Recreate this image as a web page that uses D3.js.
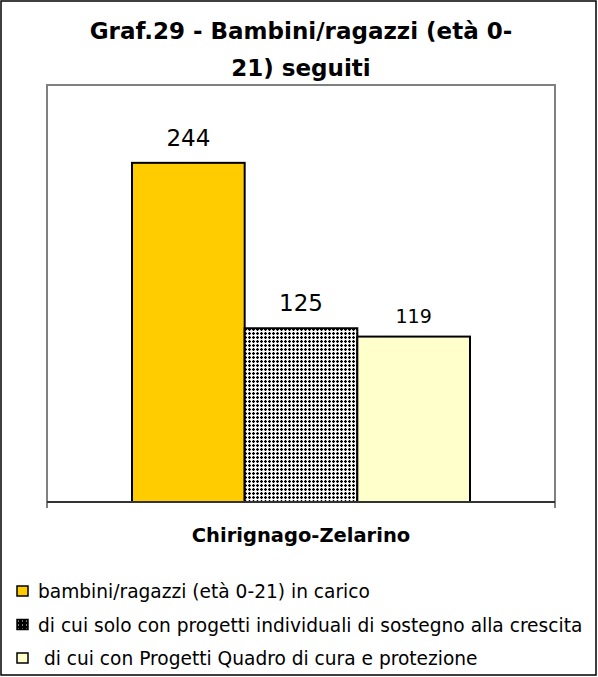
<!DOCTYPE html>
<html><head><meta charset="utf-8">
<script src="https://cdn.jsdelivr.net/npm/d3@7"></script>
<style>body{margin:0;background:#fff}svg{display:block}</style>
</head><body>
<svg id="c" width="598" height="677"></svg>
<script>
const titleLines = ["Graf.29 - Bambini/ragazzi (età 0-", "21) seguiti"];
const categories = ["Chirignago-Zelarino"];
const seriesNames = ["bambini/ragazzi (età 0-21) in carico",
  "di cui solo con progetti individuali di sostegno alla crescita",
  " di cui con Progetti Quadro di cura e protezione"];
const seriesValues = [244, 125, 119];
const seriesFills = ["#FFCC00", "url(#dots)", "#FFFFCC"];
const labelSizes = [23, 23, 19];
const yDomain = [0, 300];

const svg = d3.select("#c");
const defs = svg.append("defs");
const pat = defs.append("pattern").attr("id","dots").attr("patternUnits","userSpaceOnUse")
  .attr("width",4).attr("height",4);
pat.append("rect").attr("width",4).attr("height",4).attr("fill","#fff");
pat.append("rect").attr("x",0).attr("y",1).attr("width",3).attr("height",1).attr("fill","#000");
pat.append("rect").attr("x",1).attr("y",0).attr("width",1).attr("height",3).attr("fill","#000");
pat.append("rect").attr("x",0.5).attr("y",0.5).attr("width",2).attr("height",2).attr("fill","#000");
const pat2 = defs.append("pattern").attr("id","dotsL").attr("patternUnits","userSpaceOnUse")
  .attr("width",4).attr("height",4);
pat2.append("rect").attr("width",4).attr("height",4).attr("fill","#000");
pat2.append("rect").attr("x",1).attr("y",1).attr("width",1).attr("height",1).attr("fill","#fff");

svg.append("rect").attr("x",0).attr("y",0).attr("width",598).attr("height",677).attr("fill","#fff");
svg.append("rect").attr("x",1).attr("y",1).attr("width",595).attr("height",674)
  .attr("fill","none").attr("stroke","#000").attr("stroke-width",1.5);

const font = "Tahoma, 'DejaVu Sans', sans-serif";
const title = svg.append("text").attr("text-anchor","middle").attr("font-family",font)
  .attr("font-weight","bold").attr("font-size",23).attr("fill","#000");
title.selectAll("tspan").data(titleLines).join("tspan")
  .attr("x",301).attr("y",(d,i)=>39+i*37).text(d=>d);

const L = 47, R = 555, T = 85, B = 502;
const y = d3.scaleLinear().domain(yDomain).range([B, T]);
const x0 = d3.scaleBand().domain(categories).range([L, R]).paddingInner(0).paddingOuter(0.2515);
const x1 = d3.scaleBand().domain(d3.range(seriesValues.length)).range([0, x0.bandwidth()]).padding(0);

// plot area frame
svg.append("path").attr("d",`M${L},${B+6}V${T}H${R}V${B+6}`).attr("fill","none")
  .attr("stroke","#808080").attr("stroke-width",2);

const g = svg.append("g").attr("transform",`translate(${x0(categories[0])},0)`);
g.selectAll("rect").data(seriesValues).join("rect")
  .attr("x",(d,i)=>x1(i)).attr("y",d=>y(d))
  .attr("width",x1.bandwidth()).attr("height",d=>B-y(d))
  .attr("fill",(d,i)=>seriesFills[i]).attr("stroke","#000").attr("stroke-width",2);
g.selectAll("text").data(seriesValues).join("text")
  .attr("x",(d,i)=>x1(i)+x1.bandwidth()/2).attr("y",(d,i)=>y(d)-(i==2?14:17))
  .attr("text-anchor","middle").attr("font-family",font)
  .attr("font-size",(d,i)=>labelSizes[i]).text(d=>d);

// x axis
svg.append("line").attr("x1",L).attr("x2",R).attr("y1",B).attr("y2",B)
  .attr("stroke","#333").attr("stroke-width",2);
svg.append("text").attr("x",x0(categories[0])+x0.bandwidth()/2).attr("y",542)
  .attr("text-anchor","middle").attr("font-family",font).attr("font-weight","bold")
  .attr("font-size",19.5).text(categories[0]);

// legend
const lg = svg.append("g");
const rows = lg.selectAll("g").data(seriesNames).join("g")
  .attr("transform",(d,i)=>`translate(17,${586+i*33.5})`);
rows.append("rect").attr("width",11).attr("height",10)
  .attr("fill",(d,i)=> i==1 ? "url(#dotsL)" : seriesFills[i]).attr("stroke","#000").attr("stroke-width",1.5);
rows.append("text").attr("x",21).attr("y",12).attr("font-family",font).attr("font-size",18.6)
  .attr("xml:space","preserve").style("white-space","pre").text(d=>d);
</script>
</body></html>
